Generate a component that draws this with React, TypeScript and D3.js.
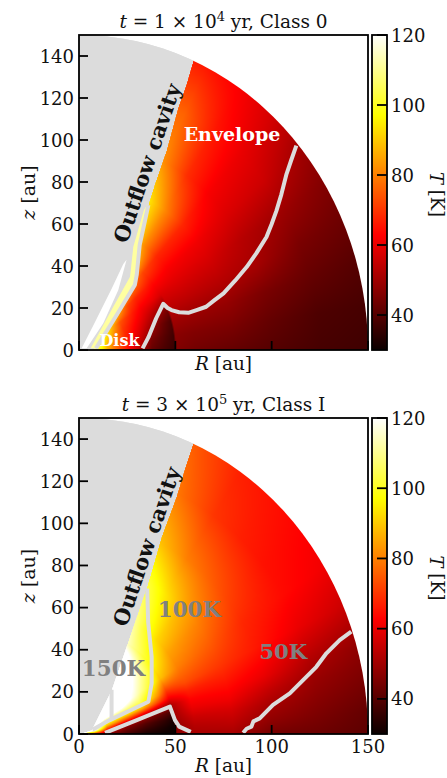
import React, { useMemo } from "react";
import * as d3 from "d3";

const W = 447, H = 778;
const SERIF = "'DejaVu Serif', serif";
const GREY = "#dcdcdc";

// colour limits and ticks
const tMin = 30, tMax = 120;
const cbarTicks = [40, 60, 80, 100, 120];
const zTicks = [0, 20, 40, 60, 80, 100, 120, 140];
const rTicks = [0, 50, 100, 150];
const hotDomain = [30, 62.85, 97.14, 120];
const hotRange = ["#0b0000", "#ff0000", "#ffff00", "#ffffff"];

// temperature on a polar (r, theta) mesh
const rNodesA = [5, 15, 25, 33, 38, 45, 49.5, 50.5, 60, 80, 100, 125, 150];
const thNodesA = [0, 8, 16, 24, 32, 40, 48, 56, 64, 72];
const tempA = [
  [120, 125, 125, 125, 125, 125, 125, 125, 125, 125],
  [85, 87, 90, 95, 100, 108, 115, 120, 120, 120],
  [65, 67, 68, 70, 74, 88, 105, 115, 120, 120],
  [50, 54, 58, 62, 66, 72, 90, 110, 115, 115],
  [42, 45, 51, 57, 62, 68, 82, 100, 110, 110],
  [38, 40, 43, 50, 60, 66, 76, 96, 105, 110],
  [36, 37, 39, 46, 58, 64, 72, 92, 105, 110],
  [46, 47, 50, 54, 58, 64, 72, 92, 105, 110],
  [44, 46, 49.5, 54, 58, 62, 68, 82, 100, 100],
  [42, 45, 48.5, 53, 57, 61, 68, 81, 96, 100],
  [40, 42, 45, 51, 53, 58, 62, 69, 82, 90],
  [38, 39, 42, 45, 49.5, 56, 60, 66, 76, 78],
  [37, 38, 40, 43, 46, 50, 57, 62, 66, 68],
];

const rNodesB = [8, 15, 25, 35, 45, 49.5, 50.5, 60, 80, 100, 125, 150];
const thNodesB = [0, 4, 8, 12, 16, 20, 24, 32, 40, 48, 56, 64, 72];
const tempB = [
  [70, 85, 105, 125, 130, 130, 130, 130, 130, 130, 130, 130, 130],
  [45, 52, 66, 78, 90, 98, 108, 130, 130, 130, 130, 130, 130],
  [38, 42, 47, 55, 75, 92, 105, 130, 130, 130, 130, 130, 130],
  [32, 36, 40, 47, 62, 85, 103, 115, 122, 130, 130, 130, 130],
  [30, 32, 35, 41, 52, 70, 82, 98, 106, 112, 122, 130, 130],
  [30, 30, 32, 38, 50, 62, 70, 88, 96, 102, 110, 120, 125],
  [47, 48, 50, 51, 53, 62, 70, 88, 96, 102, 110, 120, 125],
  [51, 53, 56, 60, 63, 67, 73, 80, 85, 92, 102, 115, 118],
  [51, 54, 57, 61, 64, 67, 70, 75, 80, 86, 94, 103, 110],
  [44, 48, 51, 55, 60, 63, 66, 68, 72, 76, 80, 88, 95],
  [43, 45, 47, 49, 52, 56, 60, 64, 65, 67, 70, 77, 85],
  [41, 42, 44, 46, 48, 52, 56, 61, 63, 65, 67, 73, 80],
];

// outflow cavity boundaries, [R, z] in au
const cavityA = [[8.8, 0.8], [19.8, 17], [29, 31], [30, 36], [31.5, 50], [36, 69], [39.4, 79], [45.4, 94.9], [51.5, 115.5], [55.8, 126.6], [59.3, 137.6]];
const cavityB = [[6.6, 1.9], [16.9, 20.9], [26.4, 46.2], [35.4, 70], [37.7, 77], [42.9, 93.6], [50.6, 112.6], [55, 126], [59.3, 138]];

// features inside the cavity of the first panel
const whiteStreakA = [[1.4, 0.8], [4, 0.8], [12.6, 12.7], [20.4, 28.6], [24.7, 43], [23, 41], [17, 29.3], [8, 12.7]];
const sliverA = [[6.05, 0.8], [8.8, 0.8], [19.8, 17], [29, 31], [30, 36], [31.5, 50], [35.5, 69.5], [33.7, 66.7], [28.2, 49.2], [26.5, 34.9], [17.8, 20.6]];

// temperature contours, [R, z] in au
const contoursA = [
  [[8.8, 0.8], [19.8, 17], [29, 31], [30, 36], [31.5, 50], [36, 69]],
  [[33, 0.8], [36, 6], [40, 15], [43.7, 22], [46, 20], [48, 19], [52, 18], [56.7, 17.7], [61, 19], [66, 20.6], [70, 23.5], [75, 27], [81, 33], [87, 39.5], [92, 46], [97.3, 53.8], [100, 60], [102.5, 66.4], [105, 74], [107.7, 83.8], [110, 90], [112.8, 97.3]],
];
const contoursB = [
  [[35.4, 69], [35.9, 53], [37.7, 36.7], [37.7, 24], [36, 15.3], [16, 6.6], [7, 2]],
  [[16.9, 21], [16.9, 7]],
  [[13.5, 0.5], [30, 6.6], [47.2, 13], [49.8, 6.6], [52, 3.5], [58, 1]],
  [[85.2, 0.6], [87, 2.5], [89.5, 3.5], [90.5, 6], [93.8, 7.4], [100.7, 13.8], [109.4, 19.3], [116.3, 25.6], [123.2, 31.9], [128.4, 38.3], [135.3, 44.6], [141.3, 48.6]],
];

const hot = d3.scaleLinear<string>().domain(hotDomain).range(hotRange).clamp(true).interpolate(d3.interpolateRgb as any);

function sample(rN: number[], thN: number[], grid: number[][], r: number, th: number) {
  const i = Math.max(0, Math.min(rN.length - 2, d3.bisectRight(rN, r) - 1));
  const j = Math.max(0, Math.min(thN.length - 2, d3.bisectRight(thN, th) - 1));
  const u = Math.max(0, Math.min(1, (r - rN[i]) / (rN[i + 1] - rN[i])));
  const v = Math.max(0, Math.min(1, (th - thN[j]) / (thN[j + 1] - thN[j])));
  return (1 - u) * ((1 - v) * grid[i][j] + v * grid[i][j + 1]) + u * ((1 - v) * grid[i + 1][j] + v * grid[i + 1][j + 1]);
}

function fieldImage(rN: number[], thN: number[], grid: number[][], mask: any, x: any, y: any, w: number, h: number) {
  const c = document.createElement("canvas");
  c.width = Math.round(w); c.height = Math.round(h);
  const ctx = c.getContext("2d")!;
  const img = ctx.createImageData(c.width, c.height);
  const [x0] = x.range(); const [, yTop] = y.range();
  const g = d3.rgb(GREY);
  for (let py = 0; py < c.height; py++) for (let px = 0; px < c.width; px++) {
    const R = x.invert(x0 + px + 0.5), z = y.invert(yTop + py + 0.5);
    const r = Math.hypot(R, z), th = (Math.atan2(z, R) * 180) / Math.PI;
    const col = d3.polygonContains(mask, [R, z]) ? g : d3.rgb(hot(sample(rN, thN, grid, r, th)));
    const k = (py * c.width + px) * 4;
    img.data[k] = col.r; img.data[k + 1] = col.g; img.data[k + 2] = col.b; img.data[k + 3] = 255;
  }
  ctx.putImageData(img, 0, 0);
  return c.toDataURL();
}

function cbarImage(h: number) {
  const c = document.createElement("canvas");
  c.width = 1; c.height = Math.round(h);
  const ctx = c.getContext("2d")!;
  for (let i = 0; i < c.height; i++) {
    ctx.fillStyle = hot(tMax - ((i + 0.5) / c.height) * (tMax - tMin));
    ctx.fillRect(0, i, 1, 1);
  }
  return c.toDataURL();
}

type Label = { text: string; R: number; z: number; size: number; fill: string; rotate?: number };

const labelsA: Label[] = [
  { text: "Outflow cavity", R: 35.3, z: 89, size: 21, fill: "#111", rotate: -71 },
  { text: "Envelope", R: 79.4, z: 103, size: 19, fill: "#fff" },
  { text: "Disk", R: 21, z: 4.3, size: 16, fill: "#fff" },
];
const labelsB: Label[] = [
  { text: "Outflow cavity", R: 35, z: 89, size: 21, fill: "#111", rotate: -71 },
  { text: "100K", R: 57.3, z: 59, size: 21.4, fill: "#808080" },
  { text: "150K", R: 17.9, z: 31, size: 21.4, fill: "#808080" },
  { text: "50K", R: 106, z: 39, size: 21.2, fill: "#808080" },
];

function Panel(props: any) {
  const { top, bottom, rN, thN, grid, cavity, contours, labels, extras, title, exp, id, showX, labelY } = props;
  const left = 79, right = 368;
  const x = d3.scaleLinear().domain([0, 150]).range([left, right]);
  const y = d3.scaleLinear().domain([0, 150]).range([bottom, top]);
  const cy = d3.scaleLinear().domain([tMin, tMax]).range([bottom, top]);
  const line = d3.line<number[]>().x(d => x(d[0])).y(d => y(d[1]));
  const grey = [...cavity, [cavity[cavity.length - 1][0], 150], [0, 150], [0, 0]];
  const href = useMemo(() => fieldImage(rN, thN, grid, grey, x, y, right - left, bottom - top), []);
  const cbar = useMemo(() => cbarImage(bottom - top), []);
  const cbL = 372, cbR = 387;
  return (
    <g>
      <clipPath id={id}>
        <ellipse cx={x(0)} cy={y(0)} rx={x(150) - x(0)} ry={y(0) - y(150)} />
      </clipPath>
      <g clipPath={`url(#${id})`}>
        <image href={href} x={left} y={top} width={right - left} height={bottom - top} preserveAspectRatio="none" />
        <path d={line(grey as any)! + "Z"} fill={GREY} />
        {extras.map((e: any, i: number) => <path key={i} d={line(e.pts)! + "Z"} fill={e.fill} />)}
      </g>
      {contours.map((c: any, i: number) => (
        <path key={i} d={line(c)!} fill="none" stroke={GREY} strokeWidth={4} strokeLinejoin="round" />
      ))}
      {labels.map((l: Label, i: number) => (
        <text key={i} x={x(l.R)} y={y(l.z)} fontFamily={SERIF} fontWeight="bold" fontSize={l.size} fill={l.fill} textAnchor="middle"
          dominantBaseline="central" transform={l.rotate ? `rotate(${l.rotate} ${x(l.R)} ${y(l.z)})` : undefined}>{l.text}</text>
      ))}
      {zTicks.map(t => (
        <g key={t}>
          <line x1={left} x2={left + 9} y1={y(t)} y2={y(t)} stroke="#000" strokeWidth={1.8} />
          <text x={left - 5} y={y(t)} textAnchor="end" dominantBaseline="central" fontFamily={SERIF} fontSize={18} fill="#111">{t}</text>
        </g>
      ))}
      {rTicks.map(t => (
        <g key={t}>
          <line x1={x(t)} x2={x(t)} y1={bottom} y2={bottom - 9} stroke="#000" strokeWidth={1.8} />
          {showX && <text x={x(t)} y={bottom + 12} textAnchor="middle" fontFamily={SERIF} fontSize={18} fill="#111" dominantBaseline="central">{t}</text>}
        </g>
      ))}
      <rect x={left} y={top} width={right - left} height={bottom - top} fill="none" stroke="#000" strokeWidth={1.8} />
      <text transform={`translate(28 ${(top + bottom) / 2}) rotate(-90)`} textAnchor="middle" dominantBaseline="central" fontFamily={SERIF} fontSize={19} fill="#111">
        <tspan fontStyle="italic">z</tspan> [au]
      </text>
      <text x={(left + right) / 2} y={labelY} textAnchor="middle" fontFamily={SERIF} fontSize={18.5} fill="#111">
        <tspan fontStyle="italic">R</tspan> [au]
      </text>
      <text x={(left + right) / 2} y={top - 7} textAnchor="middle" fontFamily={SERIF} fontSize={18.5} fill="#111">
        <tspan fontStyle="italic">t</tspan>{` = ${title[0]} × 10`}<tspan dy={-7} fontSize={13}>{exp}</tspan><tspan dy={7}>{` yr, ${title[1]}`}</tspan>
      </text>
      <image href={cbar} x={cbL} y={top} width={cbR - cbL} height={bottom - top} preserveAspectRatio="none" />
      {cbarTicks.map(t => (
        <g key={t}>
          <line x1={cbR - 10} x2={cbR} y1={cy(t)} y2={cy(t)} stroke="#000" strokeWidth={1.8} />
          <text x={cbR + 4} y={cy(t)} dominantBaseline="central" fontFamily={SERIF} fontSize={18} fill="#111">{t}</text>
        </g>
      ))}
      <rect x={cbL} y={top} width={cbR - cbL} height={bottom - top} fill="none" stroke="#000" strokeWidth={1.8} />
      <text transform={`translate(437 ${(top + bottom) / 2 + 2}) rotate(90)`} textAnchor="middle" dominantBaseline="central" fontFamily={SERIF} fontSize={18} fill="#111">
        <tspan fontStyle="italic">T</tspan> [K]
      </text>
    </g>
  );
}

export default function App() {
  return (
    <svg width={W} height={H} viewBox={`0 0 ${W} ${H}`} style={{ position: "absolute", left: 0, top: 0, display: "block", background: "#fff" }}>
      <Panel id="pa" top={35} bottom={350} rN={rNodesA} thN={thNodesA} grid={tempA} cavity={cavityA} contours={contoursA} labels={labelsA}
        extras={[{ pts: whiteStreakA, fill: "#ffffff" }, { pts: sliverA, fill: "#ffffa0" }]} title={["1", "Class 0"]} exp="4" showX={false} labelY={370} />
      <Panel id="pb" top={418} bottom={734} rN={rNodesB} thN={thNodesB} grid={tempB} cavity={cavityB} contours={contoursB} labels={labelsB}
        extras={[]} title={["3", "Class I"]} exp="5" showX={true} labelY={772} />
    </svg>
  );
}
